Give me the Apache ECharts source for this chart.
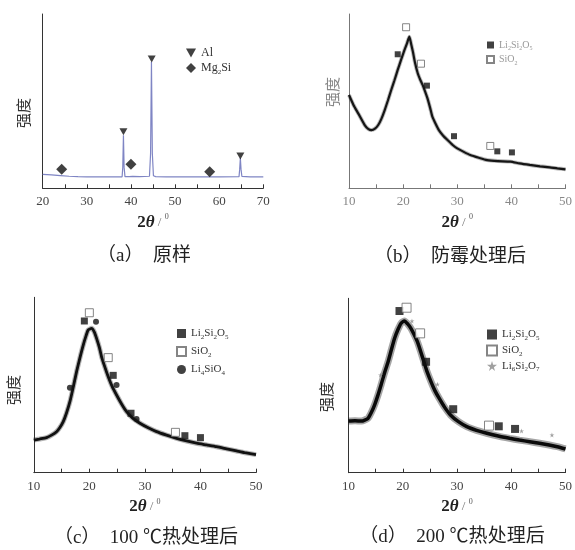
<!DOCTYPE html>
<html><head><meta charset="utf-8">
<script src="https://cdn.jsdelivr.net/npm/echarts@6/dist/echarts.min.js"></script>
<style>html,body{margin:0;padding:0;background:#fff}#c{width:575px;height:550px}</style>
</head><body><div id="c"></div>
<script>
// ---- data (x = 2θ in degrees, y = relative intensity 0-100) ----
const aCurve = [[20,8.0],[22,7.7],[24,7.3],[26,6.9],[28,6.7],[30,6.6],[33,6.5],[36,6.5],[38.0,6.6],[38.15,12],[38.3,30.5],[38.45,12],[38.65,6.7],[39.6,6.7],[40.0,7.7],[40.4,6.8],[42,6.7],[44.2,6.9],[44.45,20],[44.65,72.5],[44.85,20],[45.1,7.2],[45.6,6.7],[48,6.6],[52,6.6],[56,6.6],[60,6.6],[64.5,6.7],[64.65,11],[64.8,17.3],[64.95,11],[65.15,6.8],[67,6.6],[70,6.6]];
const aAl = [[38.3,32.5],[44.7,74.2],[64.8,18.5]];
const aMg2Si = [[24.3,10.9],[40.0,13.8],[57.85,9.5]];

const bCurve = [[10,53.5],[10.8,48],[11.7,43],[12.9,36.3],[13.6,34],[14.15,33.4],[14.8,34.2],[15.4,36.3],[16.0,40],[16.6,44.9],[17.2,50.5],[17.8,56.4],[18.4,62],[19.0,67.9],[19.6,73.5],[20.24,79.3],[20.7,83],[21.15,87.0],[21.5,82.5],[21.8,78.4],[22.2,72],[22.7,66.0],[23.2,62],[23.6,59.3],[24.0,56],[24.5,51.6],[25.0,46],[25.4,41.1],[26.0,37],[26.6,33.4],[27.4,30.2],[28.2,27.7],[29.1,25.0],[30.0,22.9],[31.2,20.9],[32.4,19.1],[34,17.5],[35.5,16.2],[37.5,15.6],[39.8,15.3],[41.5,14.3],[43.4,13.4],[45.3,12.6],[47.1,12.0],[48.5,11.4],[50,10.9]];
const bLi2Si2O5 = [[19.0,76.9],[24.4,58.9],[29.4,29.9],[37.4,21.2],[40.1,20.6]];
const bSiO2 = [[20.55,92.4],[23.3,71.5],[36.1,24.3]];

const cCurve = [[10,18.6],[11,19.2],[12.3,20.0],[13.2,21.4],[14.1,23.4],[14.7,25.8],[15.3,29.1],[15.9,34.2],[16.5,40.5],[17.1,48.8],[17.7,57.6],[18.3,65.5],[18.9,72.8],[19.4,78],[19.8,81.4],[20.4,82.3],[20.9,80.2],[21.3,76.6],[21.8,71.4],[22.2,66.1],[22.8,60.2],[23.4,54.7],[24.1,49.2],[24.9,44.3],[25.8,39.2],[26.7,34.8],[27.8,31.1],[29.1,28.2],[30.6,25.6],[32.1,23.4],[33.9,21.4],[35.7,19.6],[37.5,18.1],[39.3,16.8],[41.1,15.8],[42.9,14.8],[44.7,13.6],[46.5,12.4],[48,11.4],[50,10.3]];
const cLi2Si2O5 = [[19.1,86.5],[24.3,55.5],[27.5,33.9],[37.2,21.1],[40.0,20.0]];
const cSiO2 = [[20.0,91.2],[23.4,65.6],[35.5,23.0]];
const cLi4SiO4 = [[16.5,48.5],[21.2,86.1],[24.9,50.0],[28.5,30.6]];

const dCurve = [[10,29.6],[11.2,29.8],[12.4,29.6],[13.0,30.2],[13.6,31.2],[14.2,34.5],[14.8,38.8],[15.4,44.2],[16.0,50.3],[16.6,56.8],[17.3,63.6],[17.9,70.5],[18.5,77.1],[19.1,82],[19.7,85.7],[20.3,87.0],[20.9,85.3],[21.5,82.8],[22.1,79.2],[22.7,75.1],[23.3,69.5],[23.9,63.6],[24.5,57.8],[25.2,52.2],[25.9,47.2],[26.7,42.7],[27.7,37.6],[28.8,33.1],[30.2,29.4],[31.8,26.4],[33.6,24.3],[35.5,22.6],[37.6,21.0],[39.7,19.7],[41.5,18.7],[43.4,17.8],[45.2,16.9],[47.0,15.9],[48.5,14.9],[50,13.6]];
const dLi2Si2O5 = [[19.4,92.7],[24.3,63.6],[29.3,36.4],[37.7,26.6],[40.7,25.1]];
const dSiO2 = [[20.7,94.6],[23.2,79.9],[35.9,27.0]];
const dLi6Si2O7 = [[15.9,56.0],[21.7,87.0],[26.4,50.7],[41.9,23.9],[47.5,21.6]];

const aRange = [20, 70];
const bcdRange = [10, 50];
const titles = ['（a）  原样', '（b）  防霉处理后', '（c）  100 ℃热处理后', '（d）  200 ℃热处理后'];
const yName = '强度';

// ---- chart ----
const SERIF = 'Liberation Serif';
const CJK = 'Liberation Serif, Noto Sans CJK SC';
const chart = echarts.init(document.getElementById('c'));

const grids = [
  {left: 42.7, top: 14, width: 220.6, height: 174.3},
  {left: 349, top: 14, width: 218.7, height: 174.3},
  {left: 33.8, top: 297.3, width: 222.2, height: 175.4},
  {left: 348.5, top: 298.3, width: 219.5, height: 174.4}
];
const axColors = ['#333', '#777', '#333', '#333'];
const lblColors = ['#444', '#888', '#444', '#444'];

function xAxis(i, range) {
  return {
    type: 'value', gridIndex: i, min: range[0], max: range[1], interval: 5,
    axisLine: {lineStyle: {color: axColors[i], width: 1}},
    axisTick: {inside: true, length: 4, lineStyle: {color: axColors[i]}},
    splitLine: {show: false},
    axisLabel: {color: lblColors[i], fontFamily: SERIF, fontSize: 13, margin: 7,
      formatter: v => (v % 10 === 0 ? String(v) : '')},
    name: '{b|2}{i|θ}{r| / }{u|0}', nameLocation: 'middle', nameGap: 25,
    nameTextStyle: {rich: {
      b: {fontFamily: SERIF, fontWeight: 'bold', fontSize: 17, color: '#222', lineHeight: 18},
      i: {fontFamily: SERIF, fontWeight: 'bold', fontStyle: 'italic', fontSize: 17, color: '#222', lineHeight: 18},
      r: {fontFamily: SERIF, fontSize: 13, color: '#777', lineHeight: 18},
      u: {fontFamily: SERIF, fontSize: 8, color: '#555', lineHeight: 18, verticalAlign: 'top'}
    }}
  };
}
function yAxis(i) {
  return {type: 'value', gridIndex: i, min: 0, max: 100,
    axisLine: {show: true, lineStyle: {color: axColors[i]}},
    axisTick: {show: false}, axisLabel: {show: false}, splitLine: {show: false}};
}

function curve(i, data, color, width, band) {
  const out = [];
  if (band) out.push({type: 'line', xAxisIndex: i, yAxisIndex: i, data: data, showSymbol: false, smooth: 0.2,
    lineStyle: {color: band.color, width: band.width}, silent: true, z: 1});
  out.push({type: 'line', xAxisIndex: i, yAxisIndex: i, data: data, showSymbol: false,
    smooth: i === 0 ? false : 0.2, lineStyle: {color: color, width: width}, silent: true, z: 2});
  return out;
}
function pts(i, name, data, symbol, size, style) {
  return {type: 'scatter', name: name, xAxisIndex: i, yAxisIndex: i, data: data, symbol: symbol,
    symbolSize: size, itemStyle: style, z: 5};
}
const black = {color: '#111'};
const hollow = {color: '#fff', borderColor: '#666', borderWidth: 1};
const STAR = 'path://M50 0 L61 36 L98 36 L68 58 L79 94 L50 72 L21 94 L32 58 L2 36 L39 36 Z';
const DOWN_TRI = 'path://M0 0 L100 0 L50 90 Z';

function fmt(name) {
  const t = name.split(':')[1];
  return t.replace(/([A-Za-z]+)|(\d+)/g, (m, l, d) => (l ? '{n|' + l + '}' : '{s|' + d + '}'));
}
function legend(ids, left, top, iw, ih, gap, fs, color) {
  return {data: ids, left: left, top: top, orient: 'vertical', itemWidth: iw, itemHeight: ih, itemGap: gap,
    selectedMode: false, padding: 0, formatter: fmt,
    textStyle: {rich: {
      n: {fontFamily: SERIF, fontSize: fs, color: color, lineHeight: fs + 3},
      s: {fontFamily: SERIF, fontSize: Math.round(fs * 0.62), color: color, lineHeight: 7, verticalAlign: 'bottom'}
    }}};
}

const series = [
  ...curve(0, aCurve, '#7f85c4', 1.2),
  pts(0, 'a:Al', aAl, DOWN_TRI, [8, 7], black),
  pts(0, 'a:Mg2Si', aMg2Si, 'diamond', 11, black),
  ...curve(1, bCurve, '#151515', 2.2, {color: 'rgba(60,60,60,0.35)', width: 4}),
  pts(1, 'b:Li2Si2O5', bLi2Si2O5, 'rect', 6, black),
  pts(1, 'b:SiO2', bSiO2, 'rect', 7, hollow),
  ...curve(2, cCurve, '#111', 2.8, {color: 'rgba(40,40,40,0.35)', width: 5}),
  pts(2, 'c:Li2Si2O5', cLi2Si2O5, 'rect', 7, black),
  pts(2, 'c:SiO2', cSiO2, 'rect', 8, hollow),
  pts(2, 'c:Li4SiO4', cLi4SiO4, 'circle', 6, black),
  ...curve(3, dCurve, '#0a0a0a', 3.5, {color: 'rgba(30,30,30,0.4)', width: 7}),
  pts(3, 'd:Li2Si2O5', dLi2Si2O5, 'rect', 8, black),
  pts(3, 'd:SiO2', dSiO2, 'rect', 9, hollow),
  pts(3, 'd:Li6Si2O7', dLi6Si2O7, STAR, 5, {color: '#888'})
];

function label(text, x, y, fs, color, rot) {
  return {type: 'text', x: x, y: y, rotation: rot || 0,
    style: {text: text, fontFamily: CJK, fontSize: fs, fill: color, textAlign: 'center', textVerticalAlign: 'middle'}};
}

chart.setOption({
  animation: false,
  grid: grids,
  xAxis: [xAxis(0, aRange), xAxis(1, bcdRange), xAxis(2, bcdRange), xAxis(3, bcdRange)],
  yAxis: [yAxis(0), yAxis(1), yAxis(2), yAxis(3)],
  legend: [
    legend(['a:Al', 'a:Mg2Si'], 186, 47, 10, 10, 3, 12, '#333'),
    legend(['b:Li2Si2O5', 'b:SiO2'], 486, 40, 7, 7, 3, 10, '#999'),
    legend(['c:Li2Si2O5', 'c:SiO2', 'c:Li4SiO4'], 176, 328, 9, 9, 5.5, 11, '#333'),
    legend(['d:Li2Si2O5', 'd:SiO2', 'd:Li6Si2O7'], 486, 329, 10, 10, 3, 11, '#333')
  ],
  series: series,
  graphic: [
    label(titles[0], 144, 256, 19, '#222'),
    label(titles[1], 450, 257, 19, '#222'),
    label(titles[2], 146, 538, 19, '#222'),
    label(titles[3], 452, 537, 19, '#222'),
    label(yName, 25, 113, 15, '#333', Math.PI / 2),
    label(yName, 334, 92, 15, '#888', Math.PI / 2),
    label(yName, 15, 390, 15, '#333', Math.PI / 2),
    label(yName, 328, 397, 15, '#333', Math.PI / 2)
  ]
});
</script></body></html>
